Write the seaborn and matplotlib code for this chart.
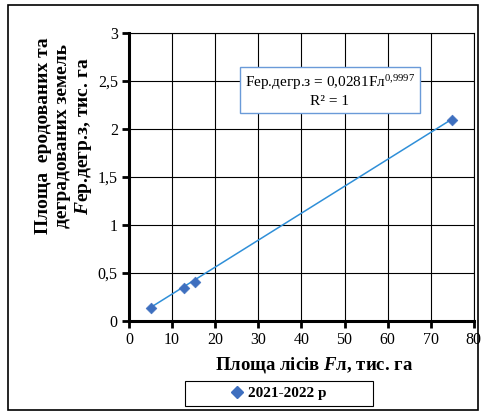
import numpy as np
import pandas as pd
import matplotlib
matplotlib.use("Agg")
import matplotlib.pyplot as plt
import seaborn as sns
from matplotlib.patches import Rectangle
from matplotlib.lines import Line2D

# Data
forest_area = [5.0, 12.7, 15.2, 75.0]          # Fл, тис. га
degraded_area = [0.135, 0.34, 0.405, 2.09]     # Fер.дегр.з, тис. га
series_name = "2021-2022 р"
fit_a = 0.0281
fit_b = 0.9997
x_ticks = [0, 10, 20, 30, 40, 50, 60, 70, 80]
y_ticks = [0, 0.5, 1, 1.5, 2, 2.5, 3]
y_tick_labels = ["0", "0,5", "1", "1,5", "2", "2,5", "3"]

sns.set_theme(style="white")
plt.rcParams['font.family'] = ['Liberation Serif', 'DejaVu Serif']
plt.rcParams['text.color'] = 'black'
plt.rcParams['axes.labelcolor'] = 'black'
plt.rcParams['mathtext.fontset'] = 'custom'
plt.rcParams['mathtext.rm'] = 'Liberation Serif'
plt.rcParams['mathtext.it'] = 'Liberation Serif:italic:bold'
plt.rcParams['mathtext.bf'] = 'Liberation Serif:bold'

df = pd.DataFrame({"x": forest_area, "y": degraded_area, "s": series_name})
xs = np.linspace(min(forest_area), max(forest_area), 50)
trend = pd.DataFrame({"x": xs, "y": fit_a * xs ** fit_b})

fig = plt.figure(figsize=(4.84, 4.15), dpi=100)
ax = fig.add_axes([0.2665, 0.2265, 0.7125, 0.694])

sns.lineplot(data=trend, x="x", y="y", ax=ax, color="#2F8FD8", linewidth=1.1, legend=False, zorder=3)
sns.scatterplot(data=df, x="x", y="y", ax=ax, marker="D", s=30, color="#3E6FBF",
                edgecolor="#3E6FBF", legend=False, zorder=4)

ax.set_xlim(0, 80)
ax.set_ylim(0, 3)
ax.set_xticks(x_ticks)
ax.set_xticklabels([str(t) for t in x_ticks])
ax.set_yticks(y_ticks)
ax.set_yticklabels(y_tick_labels)
ax.grid(True, color="black", linewidth=0.8)
ax.set_axisbelow(True)
for side in ["left", "bottom"]:
    ax.spines[side].set_linewidth(2.2)
    ax.spines[side].set_color("black")
for side in ["right", "top"]:
    ax.spines[side].set_linewidth(0.8)
    ax.spines[side].set_color("black")
ax.tick_params(axis="both", direction="out", length=5, width=2, labelsize=11.5,
               colors="black", pad=3, left=True, bottom=True)

ax.set_xlabel("Площа лісів $\\it{F}$л, тис. га", fontsize=13.5, fontweight="bold", color="black")
ax.xaxis.set_label_coords(0.536, -0.118)
ax.set_ylabel("")
fig.text(0.133, 0.672, "Площа  еродованих та\nдеградованих земель\n$\\it{F}$ер.дегр.з, тис. га",
         rotation=90, ha="center", va="center", fontsize=14, fontweight="bold",
         linespacing=1.12, color="black")

ax.text(46.6, 2.4, "Fер.дегр.з = 0,0281Fл$^{0{,}9997}$\nR² = 1", ha="center", va="center",
        fontsize=11, linespacing=1.3, color="black",
        bbox=dict(boxstyle="square,pad=0.3", facecolor="white", edgecolor="#6A9AD8", linewidth=1))

handle = Line2D([], [], marker="D", color="#3E6FBF", linestyle="none", markersize=6)
leg = fig.legend([handle], [series_name], loc="center", bbox_to_anchor=(279 / 484, 1 - 393.5 / 415),
                 frameon=False, prop={"weight": "bold", "size": 11},
                 handlelength=0.8, handletextpad=0.3, borderpad=0.35)
for t in leg.get_texts():
    t.set_color("black")

fig.patches.append(Rectangle((185 / 484, 1 - 406 / 415), 188 / 484, 25 / 415, transform=fig.transFigure,
                             fill=False, edgecolor="black", linewidth=0.8))
fig.patches.append(Rectangle((8 / 484, 5 / 415), 470 / 484, 405 / 415, transform=fig.transFigure,
                             fill=False, edgecolor="black", linewidth=1.2))

fig.savefig("out.png", dpi=100)
